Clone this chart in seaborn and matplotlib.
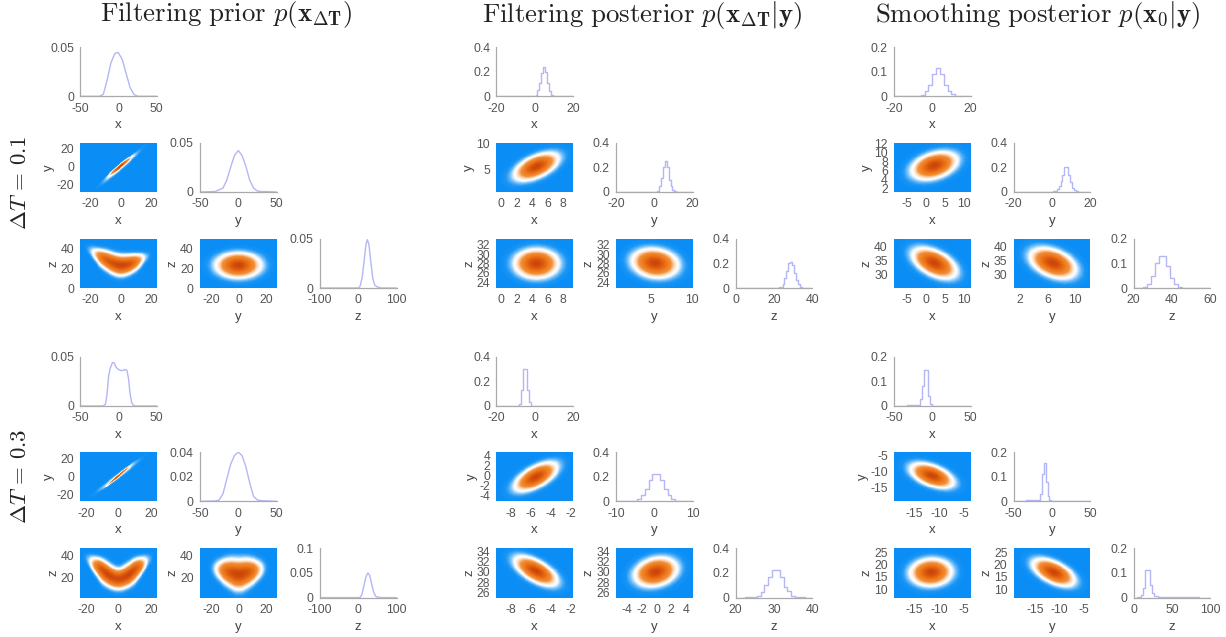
import numpy as np
import matplotlib
matplotlib.use("Agg")
import matplotlib.pyplot as plt
from matplotlib.colors import LinearSegmentedColormap
import seaborn as sns

# ---------- marginals (grid, density) ----------
a1_x_grid = [-50,-25,-20,-15,-10,-5,-2,0,5,10,15,20,25,50]
a1_x_dens = [0,0,.002,.016,.034,.043,.0445,.044,.037,.023,.009,.002,0,0]
a1_y_grid = [-50,-30,-20,-15,-10,-5,0,5,10,15,20,25,30,50]
a1_y_dens = [0,.0005,.004,.012,.025,.037,.042,.037,.026,.012,.004,.001,.0005,0]
a1_z_grid = [-100,0,5,10,15,20,24,28,33,38,43,50,60,100]
a1_z_dens = [0,0,.002,.01,.026,.044,.049,.044,.026,.01,.003,.001,0,0]

a2_x_grid = [-20,0,1,2,3,4,5,6,7,8,9,10,20]
a2_x_dens = [0,.002,.012,.05,.11,.19,.24,.2,.11,.04,.01,.002,0]
a2_y_grid = [-20,1,2,3,4,5,6,7,8,9,10,11,12,20]
a2_y_dens = [0,.002,.012,.05,.11,.2,.25,.2,.1,.05,.015,.006,.002,0]
a2_z_grid = [0,22,23,24,25,26,27,28,29,30,31,32,33,34,35,40]
a2_z_dens = [0,.002,.005,.012,.035,.08,.14,.2,.215,.19,.12,.065,.03,.01,.003,0]

a3_x_grid = [-20,-7,-5,-3,-1,1,3,5,7,9,11,13,20]
a3_x_dens = [0,.002,.006,.02,.045,.09,.115,.09,.045,.02,.008,.002,0]
a3_y_grid = [-20,0,1,2,3,4,5,6,7,8,9,10,11,12,13,14,20]
a3_y_dens = [0,.002,.006,.012,.025,.05,.09,.14,.2,.2,.14,.08,.035,.015,.005,.002,0]
a3_z_grid = [20,24,26,28,30,32,34,36,38,40,42,44,46,60]
a3_z_dens = [0,.001,.004,.015,.05,.1,.13,.13,.09,.04,.015,.004,.001,0]

b1_x_grid = [-50,-20,-17,-15,-13,-11,-8,-6,-3,0,3,5,9,11,13,15,17,19,22,50]
b1_x_dens = [0,0,.002,.012,.03,.038,.044,.044,.039,.037,.036,.036,.037,.036,.028,.013,.004,.001,0,0]
b1_y_grid = [-50,-30,-25,-20,-15,-10,-5,0,5,10,15,20,25,30,50]
b1_y_dens = [0,.0003,.001,.006,.018,.03,.037,.04,.037,.028,.015,.004,.001,.0005,0]
b1_z_grid = [-100,0,5,10,15,20,25,30,35,40,45,50,60,100]
b1_z_dens = [0,0,.0005,.007,.025,.042,.05,.045,.028,.012,.003,.001,0,0]

b2_x_grid = [-20,-8.5,-7.5,-6.5,-5.5,-4.5,-3.5,-2.5,-1.5,20]
b2_x_dens = [0,.003,.02,.13,.3,.3,.13,.03,.003,0]
b2_y_grid = [-10,-6,-5,-4,-3,-2,-1,0,1,2,3,4,5,6,7,10]
b2_y_dens = [0,.003,.006,.015,.05,.1,.17,.225,.225,.17,.1,.05,.015,.005,.002,0]
b2_z_grid = [20,25,26,27,28,29,30,31,32,33,34,35,36,40]
b2_z_dens = [0,.005,.015,.045,.1,.17,.225,.225,.17,.09,.05,.015,.004,0]

b3_x_grid = [-50,-17,-14.5,-12,-9.5,-7,-4.5,-2,0.5,20,50]
b3_x_dens = [0,.004,.03,.08,.145,.145,.04,.008,.002,.001,0]
b3_y_grid = [-50,-17,-14.5,-12,-9.5,-7,-4.5,-2,0.5,10,25,50]
b3_y_dens = [0,.004,.03,.11,.155,.08,.02,.004,.001,.002,.002,0]
b3_z_grid = [0,8,10.5,13,15.5,18,20.5,23,25.5,28,35,70,100]
b3_z_dens = [0,.002,.01,.04,.11,.11,.11,.05,.02,.005,.001,.001,0]

# ---------- joint densities ----------
# elliptical panels, each blob: centre a, centre b, spread a, spread b, correlation, weight
a1_xy = [(-0.5,0.5,3.6,5.0,.97,1.0), (0,0,6.5,9.5,.975,.2)]
a1_yz = [(-0.5,23,8.2,6.4,0,1.0)]
a2_xy = [(4.6,5.5,1.42,1.34,.55,1.0)]
a2_xz = [(4.6,28,1.42,1.55,0,1.0)]
a2_yz = [(5.5,28.1,1.4,1.55,-.14,1.0)]
a3_xy = [(2.2,7.1,3.0,1.55,.35,1.0)]
a3_xz = [(2.2,34,2.9,2.7,-.5,1.0)]
a3_yz = [(6.8,34,1.65,2.7,-.4,1.0)]
b1_xy = [(0,1,3.4,5.2,.99,1.0),(0,1,7.0,9.5,.98,.16)]
b2_xy = [(-5.5,-0.3,1.05,1.45,.62,1.0)]
b2_xz = [(-5.5,30.2,1.05,1.47,-.62,1.0)]
b2_yz = [(-0.1,30,1.45,1.45,.22,1.0)]
b3_xy = [(-11.4,-11.2,2.15,1.95,-.5,1.0)]
b3_xz = [(-11.6,16.8,2.1,2.8,.05,1.0)]
b3_yz = [(-11.2,16.8,2.1,2.8,-.55,1.0)]
# crescent panels: stations along a, ridge height, thickness, ridge weight
a1_xz_a = [-22,-18,-15,-12,-8,-4,0,4,8,11,14,18]
a1_xz_ridge = [42,37,33.5,30,27,24,22.5,23.5,25,27.5,30,34]
a1_xz_thick = [3,3.2,3.6,4.6,5,5.3,5.3,5,4.6,4,3.2,3]
a1_xz_wght = [.02,.12,.5,.75,.88,.95,1,.95,.8,.55,.18,.02]
b1_xz_a = [-20,-16,-14,-12,-8,-4,0,4,8,12,14,16,20]
b1_xz_ridge = [40,35,32,29.5,23.5,20,17.5,20,23.5,29.5,32,35,40]
b1_xz_thick = [3,3.3,3.8,4.3,5.2,5,4.8,5,5.2,4.3,3.8,3.3,3]
b1_xz_wght = [.01,.14,.55,.88,1,.9,.85,.9,1,.88,.55,.14,.01]
b1_yz_a = [-20,-16,-12,-8,-4,0,4,8,12,16,20]
b1_yz_ridge = [29,28,26.5,25,23.5,22,23.5,25,26.5,28,29]
b1_yz_thick = [4.5,5,5.5,6.3,7,7.2,7,6.3,5.5,5,4.5]
b1_yz_wght = [.01,.1,.5,.85,.95,1,.95,.85,.5,.1,.01]

# ---------- text ----------
col_titles = [r"$\mathrm{Filtering\ prior}\ p(\mathbf{x}_{\boldsymbol{\Delta}\mathbf{T}})$",
              r"$\mathrm{Filtering\ posterior}\ p(\mathbf{x}_{\boldsymbol{\Delta}\mathbf{T}}|\mathbf{y})$",
              r"$\mathrm{Smoothing\ posterior}\ p(\mathbf{x}_{\mathbf{0}}|\mathbf{y})$"]
row_titles = [r"$\Delta T\,=\,0.1$", r"$\Delta T\,=\,0.3$"]

sns.set_style("white")
plt.rcParams["font.family"] = ["Liberation Sans", "DejaVu Sans"]
plt.rcParams["mathtext.fontset"] = "cm"

W, H = 1226, 637
fig = plt.figure(figsize=(W/100, H/100), dpi=100, facecolor="white")

cmap = LinearSegmentedColormap.from_list("post", [
    (0.0, "#0a8ef5"), (0.015, "#1a95f5"), (0.05, "#74bff8"), (0.09, "#d4eafc"), (0.13, "#ffffff"),
    (0.20, "#fdeadb"), (0.28, "#f9bb82"), (0.36, "#f28f38"), (0.65, "#ea6f12"), (1.0, "#cc440a")])

TXT = "#555555"
AXC = "#aaaaaa"
LINE = "#b4b6f6"
FS = 8.8

col_left = [(80.3, 200, 320), (496.3, 616, 735.7), (894, 1013.7, 1133.7)]
AW = 76.5
row_top = [(47, 142.7, 238.7), (356.7, 452, 548.3)]
AH = 49.3


def add_ax(i_grp, i_col, r, c):
    l = col_left[i_col][c]
    t = row_top[i_grp][r]
    return fig.add_axes([l/W, 1-(t+AH)/H, AW/W, AH/H])


def finish(ax, xl, yl=None):
    ax.tick_params(axis="both", length=0, labelsize=FS, labelcolor=TXT, pad=4.5)
    ax.set_xlabel(xl, fontsize=9.5, color="#444444", labelpad=3.5)
    if yl:
        ax.set_ylabel(yl, fontsize=9.5, color="#444444", labelpad=1.0)


def fmt(v):
    return f"{v:g}"


def marginal(i_grp, i_col, idx, name, grid, dens, xlim, ymax, yt):
    ax = add_ax(i_grp, i_col, idx, idx)
    sns.lineplot(x=grid, y=dens, ax=ax, color=LINE, lw=1.0, drawstyle="steps-mid" if i_col else "default",
                 errorbar=None, estimator=None)
    ax.set_xlim(*xlim)
    ax.set_ylim(0, ymax)
    xt = [xlim[0], (xlim[0]+xlim[1])/2, xlim[1]]
    ax.set_xticks(xt, [fmt(v) for v in xt])
    ax.set_yticks(yt, [fmt(v) for v in yt])
    sns.despine(ax=ax)
    for s in ("left", "bottom"):
        ax.spines[s].set_color(AXC)
        ax.spines[s].set_linewidth(0.9)
    ax.set_facecolor("none")
    ax.grid(False)
    finish(ax, name)


def blob_density(blobs, X, Y):
    Z = np.zeros_like(X)
    for (ma, mb, sa, sb, rho, w) in blobs:
        u, v = (X-ma)/sa, (Y-mb)/sb
        Z += w*np.exp(-(u*u-2*rho*u*v+v*v)/(2*(1-rho*rho)))
    return Z


def crescent_density(table, X, Y):
    a, ridge, thick, wght = table
    r = np.interp(X, a, ridge)
    t = np.interp(X, a, thick)
    w = np.interp(X, a, wght, left=0, right=0)
    Z = w*np.exp(-(Y-r)**2/(2*t*t))
    # soften the joins between stations along a
    k = np.ones(21)/21
    Z = np.apply_along_axis(lambda row: np.convolve(row, k, mode="same"), 1, Z)
    return Z


def joint(i_grp, i_col, r, c, source, xlim, ylim, xt, yt, xl, yl):
    ax = add_ax(i_grp, i_col, r, c)
    nx, ny = 160, 100
    X, Y = np.meshgrid(np.linspace(*xlim, nx), np.linspace(*ylim, ny))
    Z = crescent_density(source, X, Y) if isinstance(source, tuple) else blob_density(source, X, Y)
    Z = Z/Z.max()
    sns.heatmap(Z, ax=ax, cmap=cmap, vmin=0, vmax=1, cbar=False,
                xticklabels=False, yticklabels=False, rasterized=True)
    ax.set_ylim(0, ny)
    ax.set_xlim(0, nx)
    ax.set_xticks((np.array(xt)-xlim[0])/(xlim[1]-xlim[0])*nx, [fmt(v) for v in xt])
    ax.set_yticks((np.array(yt)-ylim[0])/(ylim[1]-ylim[0])*ny, [fmt(v) for v in yt])
    for s in ax.spines.values():
        s.set_visible(False)
    finish(ax, xl, yl)
    ax.tick_params(axis="y", labelrotation=0)


a1_xz = (a1_xz_a, a1_xz_ridge, a1_xz_thick, a1_xz_wght)
b1_xz = (b1_xz_a, b1_xz_ridge, b1_xz_thick, b1_xz_wght)
b1_yz = (b1_yz_a, b1_yz_ridge, b1_yz_thick, b1_yz_wght)

# --- group 0, column 0
marginal(0,0,0,"x",a1_x_grid,a1_x_dens,(-50,50),.05,[0,.05])
marginal(0,0,1,"y",a1_y_grid,a1_y_dens,(-50,50),.05,[0,.05])
marginal(0,0,2,"z",a1_z_grid,a1_z_dens,(-100,100),.05,[0,.05])
joint(0,0,1,0,a1_xy,(-27,24),(-28,27),[-20,0,20],[-20,0,20],"x","y")
joint(0,0,2,0,a1_xz,(-27,24),(0,50),[-20,0,20],[0,20,40],"x","z")
joint(0,0,2,1,a1_yz,(-28.5,27.3),(0,50),[-20,0,20],[0,20,40],"y","z")
# --- group 0, column 1
marginal(0,1,0,"x",a2_x_grid,a2_x_dens,(-20,20),.4,[0,.2,.4])
marginal(0,1,1,"y",a2_y_grid,a2_y_dens,(-20,20),.4,[0,.2,.4])
marginal(0,1,2,"z",a2_z_grid,a2_z_dens,(0,40),.4,[0,.2,.4])
joint(0,1,1,0,a2_xy,(-.6,9.3),(.6,10.1),[0,2,4,6,8],[5,10],"x","y")
joint(0,1,2,0,a2_xz,(-.6,9.3),(22.8,33.3),[0,2,4,6,8],[24,26,28,30,32],"x","z")
joint(0,1,2,1,a2_yz,(.7,10.1),(22.8,33.3),[5,10],[24,26,28,30,32],"y","z")
# --- group 0, column 2
marginal(0,2,0,"x",a3_x_grid,a3_x_dens,(-20,20),.2,[0,.1,.2])
marginal(0,2,1,"y",a3_y_grid,a3_y_dens,(-20,20),.4,[0,.2,.4])
marginal(0,2,2,"z",a3_z_grid,a3_z_dens,(20,60),.2,[0,.1,.2])
joint(0,2,1,0,a3_xy,(-8.55,11.8),(1.2,12.2),[-5,0,5,10],[2,4,6,8,10,12],"x","y")
joint(0,2,2,0,a3_xz,(-8.55,11.8),(25.2,42.6),[-5,0,5,10],[30,35,40],"x","z")
joint(0,2,2,1,a3_yz,(1.1,12.2),(25.2,42.6),[2,6,10],[30,35,40],"y","z")
# --- group 1, column 0
marginal(1,0,0,"x",b1_x_grid,b1_x_dens,(-50,50),.05,[0,.05])
marginal(1,0,1,"y",b1_y_grid,b1_y_dens,(-50,50),.04,[0,.02,.04])
marginal(1,0,2,"z",b1_z_grid,b1_z_dens,(-100,100),.1,[0,.05,.1])
joint(1,0,1,0,b1_xy,(-23.5,23.7),(-27.3,27.3),[-20,0,20],[-20,0,20],"x","y")
joint(1,0,2,0,b1_xz,(-23.5,23.7),(1,47),[-20,0,20],[20,40],"x","z")
joint(1,0,2,1,b1_yz,(-28,27.2),(1,47),[-20,0,20],[20,40],"y","z")
# --- group 1, column 1
marginal(1,1,0,"x",b2_x_grid,b2_x_dens,(-20,20),.4,[0,.2,.4])
marginal(1,1,1,"y",b2_y_grid,b2_y_dens,(-10,10),.4,[0,.2,.4])
marginal(1,1,2,"z",b2_z_grid,b2_z_dens,(20,40),.4,[0,.2,.4])
joint(1,1,1,0,b2_xy,(-9.43,-1.83),(-5.2,4.7),[-8,-6,-4,-2],[-4,-2,0,2,4],"x","y")
joint(1,1,2,0,b2_xz,(-9.43,-1.83),(24.9,34.7),[-8,-6,-4,-2],[26,28,30,32,34],"x","z")
joint(1,1,2,1,b2_yz,(-5.55,4.9),(24.9,34.7),[-4,-2,0,2,4],[26,28,30,32,34],"y","z")
# --- group 1, column 2
marginal(1,2,0,"x",b3_x_grid,b3_x_dens,(-50,50),.2,[0,.1,.2])
marginal(1,2,1,"y",b3_y_grid,b3_y_dens,(-50,50),.2,[0,.1,.2])
marginal(1,2,2,"z",b3_z_grid,b3_z_dens,(0,100),.2,[0,.1,.2])
joint(1,2,1,0,b3_xy,(-19.1,-3.6),(-19.3,-3.75),[-15,-10,-5],[-15,-10,-5],"x","y")
joint(1,2,2,0,b3_xz,(-19.1,-3.6),(6.5,26.6),[-15,-10,-5],[10,15,20,25],"x","z")
joint(1,2,2,1,b3_yz,(-19.3,-3.8),(6.5,26.6),[-15,-10,-5],[10,15,20,25],"y","z")

for cx, t in zip((226, 642, 1038), col_titles):
    fig.text(cx/W, 1-15/H, t, ha="center", va="center", fontsize=19.3, color="#222222")
for cy, t in zip((182.5, 476), row_titles):
    fig.text(20/W, 1-cy/H, t, ha="center", va="center", rotation=90, fontsize=16.5, color="#222222")

fig.savefig("out.png", dpi=100, facecolor="white")
